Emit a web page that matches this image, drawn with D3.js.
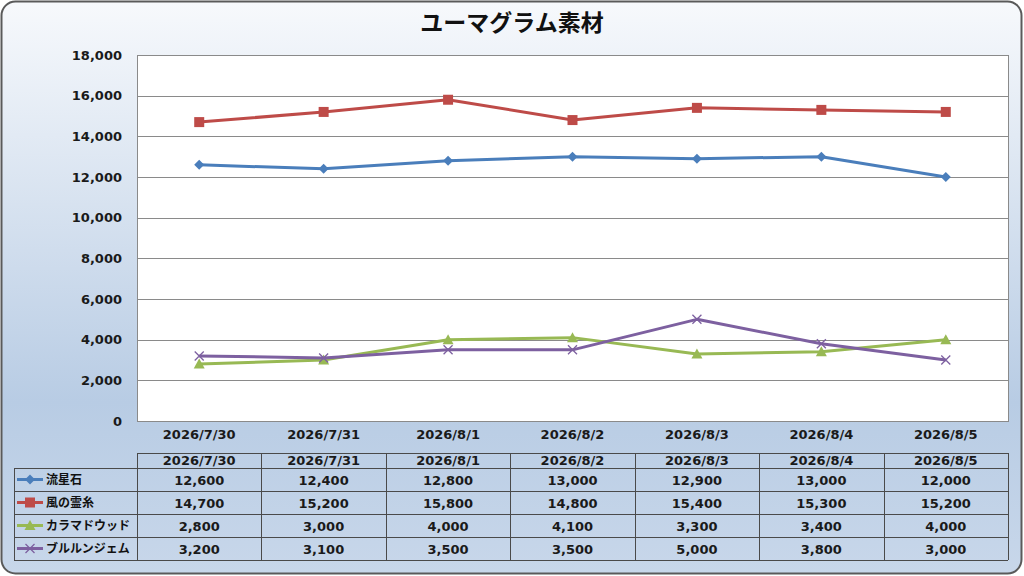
<!DOCTYPE html>
<html>
<head>
<meta charset="utf-8">
<script src="https://cdn.jsdelivr.net/npm/d3@7"></script>
<style>
  html, body { margin: 0; padding: 0; background: #fff; }
  svg { display: block; }
</style>
</head>
<body>
<div id="chart"></div>
<script>
const TITLE = "ユーマグラム素材";
const dates = ["2026/7/30", "2026/7/31", "2026/8/1", "2026/8/2", "2026/8/3", "2026/8/4", "2026/8/5"];
const seriesNames = ["流星石", "風の霊糸", "カラマドウッド", "ブルルンジェム"];
const ryuuseiseki = [12600, 12400, 12800, 13000, 12900, 13000, 12000];
const kazeNoReishi = [14700, 15200, 15800, 14800, 15400, 15300, 15200];
const karamaWood = [2800, 3000, 4000, 4100, 3300, 3400, 4000];
const bururunGem = [3200, 3100, 3500, 3500, 5000, 3800, 3000];
const yTicks = [0, 2000, 4000, 6000, 8000, 10000, 12000, 14000, 16000, 18000];

const series = [
  { name: seriesNames[0], values: ryuuseiseki, color: "#4a7ebb", marker: "diamond" },
  { name: seriesNames[1], values: kazeNoReishi, color: "#be4b48", marker: "square" },
  { name: seriesNames[2], values: karamaWood, color: "#98b954", marker: "triangle" },
  { name: seriesNames[3], values: bururunGem, color: "#7d60a0", marker: "x" }
];

const W = 1024, H = 576;
const FONT = "'Noto Sans CJK JP', 'DejaVu Sans', sans-serif";
const NUMFONT = "'DejaVu Sans', 'Noto Sans CJK JP', sans-serif";
const plot = { left: 137, right: 1008, top: 55, bottom: 421 };

const svg = d3.select("#chart").append("svg")
  .attr("width", W).attr("height", H);

const defs = svg.append("defs");
const grad = defs.append("linearGradient")
  .attr("id", "bg").attr("x1", 0).attr("y1", 0).attr("x2", 0).attr("y2", 1);
grad.append("stop").attr("offset", "0%").attr("stop-color", "#f7f9fc");
grad.append("stop").attr("offset", "70%").attr("stop-color", "#b8cce4");
grad.append("stop").attr("offset", "100%").attr("stop-color", "#c8d7ea");

svg.append("rect")
  .attr("x", 1.5).attr("y", 1.5).attr("width", W - 4).attr("height", H - 4)
  .attr("rx", 14).attr("ry", 14)
  .attr("fill", "url(#bg)")
  .attr("stroke", "#5a5a5a").attr("stroke-width", 2);

svg.append("text")
  .attr("x", W / 2).attr("y", 31)
  .attr("text-anchor", "middle")
  .attr("font-family", FONT).attr("font-weight", "bold")
  .attr("font-size", 23).attr("fill", "#111")
  .text(TITLE);

// scales
const x = d3.scaleBand().domain(dates).range([plot.left, plot.right]).padding(0);
const y = d3.scaleLinear().domain([0, 18000]).range([plot.bottom, plot.top]);

svg.append("rect")
  .attr("x", plot.left).attr("y", plot.top)
  .attr("width", plot.right - plot.left).attr("height", plot.bottom - plot.top)
  .attr("fill", "#fff");

// gridlines
svg.append("g").selectAll("line").data(yTicks).enter().append("line")
  .attr("x1", plot.left).attr("x2", plot.right)
  .attr("y1", d => Math.round(y(d)) + 0.5).attr("y2", d => Math.round(y(d)) + 0.5)
  .attr("stroke", "#8a8a8a").attr("stroke-width", 1);

svg.append("rect")
  .attr("x", plot.left + 0.5).attr("y", plot.top + 0.5)
  .attr("width", plot.right - plot.left).attr("height", plot.bottom - plot.top)
  .attr("fill", "none").attr("stroke", "#8a8a8a");

// y axis labels
const yAxis = d3.axisLeft(y).tickValues(yTicks).tickSize(0).tickPadding(15)
  .tickFormat(d3.format(","));
svg.append("g")
  .attr("transform", `translate(${plot.left},0)`)
  .call(yAxis)
  .call(g => g.select(".domain").remove())
  .call(g => g.selectAll("text")
    .attr("font-family", NUMFONT).attr("font-weight", "bold")
    .attr("font-size", 13).attr("fill", "#1a1a1a"));

// x axis labels
const xAxis = d3.axisBottom(x).tickSize(0).tickPadding(9);
svg.append("g")
  .attr("transform", `translate(0,${plot.bottom})`)
  .call(xAxis)
  .call(g => g.select(".domain").remove())
  .call(g => g.selectAll("text")
    .attr("font-family", NUMFONT).attr("font-weight", "bold")
    .attr("font-size", 13).attr("fill", "#1a1a1a"));

const cx = d => x(d) + x.bandwidth() / 2;

function drawMarker(g, type, px, py, color) {
  if (type === "diamond") {
    g.append("path").attr("d", `M${px},${py - 5}L${px + 5},${py}L${px},${py + 5}L${px - 5},${py}Z`)
      .attr("fill", color);
  } else if (type === "square") {
    g.append("rect").attr("x", px - 5).attr("y", py - 5).attr("width", 10).attr("height", 10)
      .attr("fill", color);
  } else if (type === "triangle") {
    g.append("path").attr("d", `M${px},${py - 5.5}L${px + 5.5},${py + 4.5}L${px - 5.5},${py + 4.5}Z`)
      .attr("fill", color);
  } else {
    g.append("path").attr("d", `M${px - 4.5},${py - 4.5}L${px + 4.5},${py + 4.5}M${px - 4.5},${py + 4.5}L${px + 4.5},${py - 4.5}`)
      .attr("stroke", color).attr("stroke-width", 1.3).attr("fill", "none");
  }
}

const line = d3.line().x((d, i) => cx(dates[i])).y(d => y(d));

series.forEach(s => {
  const g = svg.append("g");
  g.append("path").datum(s.values)
    .attr("d", line)
    .attr("fill", "none").attr("stroke", s.color).attr("stroke-width", 3)
    .attr("stroke-linejoin", "round");
  s.values.forEach((v, i) => drawMarker(g, s.marker, cx(dates[i]), y(v), s.color));
});

// data table
const tbl = { left: 14, top: 453, headH: 15, rowH: 23 };
const tg = svg.append("g");
const tableBottom = tbl.top + tbl.headH + tbl.rowH * series.length;
const rowY = i => tbl.top + tbl.headH + tbl.rowH * i;
const lineStroke = "#4a4a4a";

tg.append("line").attr("x1", plot.left).attr("x2", plot.right)
  .attr("y1", tbl.top + 0.5).attr("y2", tbl.top + 0.5).attr("stroke", lineStroke);
for (let i = 0; i <= series.length; i++) {
  tg.append("line").attr("x1", tbl.left).attr("x2", plot.right)
    .attr("y1", rowY(i) + 0.5).attr("y2", rowY(i) + 0.5).attr("stroke", lineStroke);
}
tg.append("line").attr("x1", tbl.left + 0.5).attr("x2", tbl.left + 0.5)
  .attr("y1", rowY(0)).attr("y2", tableBottom).attr("stroke", lineStroke);
dates.forEach(d => {
  tg.append("line").attr("x1", Math.round(x(d)) + 0.5).attr("x2", Math.round(x(d)) + 0.5)
    .attr("y1", tbl.top).attr("y2", tableBottom).attr("stroke", lineStroke);
});
tg.append("line").attr("x1", plot.right + 0.5).attr("x2", plot.right + 0.5)
  .attr("y1", tbl.top).attr("y2", tableBottom).attr("stroke", lineStroke);

dates.forEach(d => {
  tg.append("text")
    .attr("x", cx(d)).attr("y", tbl.top + 12)
    .attr("text-anchor", "middle")
    .attr("font-family", NUMFONT).attr("font-weight", "bold")
    .attr("font-size", 13).attr("fill", "#1a1a1a")
    .text(d);
});

const fmt = d3.format(",");
series.forEach((s, r) => {
  const my = rowY(r) + tbl.rowH / 2;
  tg.append("line").attr("x1", 17).attr("x2", 43).attr("y1", my).attr("y2", my)
    .attr("stroke", s.color).attr("stroke-width", 3);
  drawMarker(tg, s.marker, 30, my, s.color);
  tg.append("text")
    .attr("x", 46).attr("y", my + 4.5)
    .attr("font-family", FONT).attr("font-weight", "bold")
    .attr("font-size", 12).attr("fill", "#111")
    .text(s.name);
  s.values.forEach((v, i) => {
    tg.append("text")
      .attr("x", cx(dates[i])).attr("y", my + 5)
      .attr("text-anchor", "middle")
      .attr("font-family", NUMFONT).attr("font-weight", "bold")
      .attr("font-size", 13).attr("fill", "#1a1a1a")
      .text(fmt(v));
  });
});
</script>
</body>
</html>
